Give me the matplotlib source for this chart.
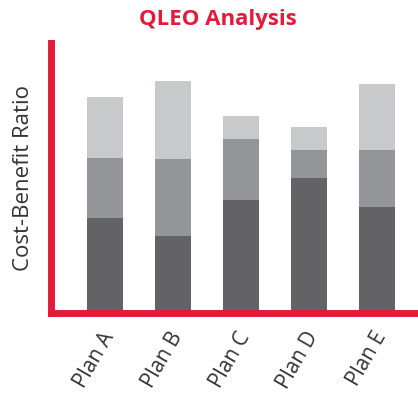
import matplotlib
matplotlib.use("Agg")
import matplotlib.pyplot as plt
import matplotlib.transforms as mtransforms
import numpy as np

categories = ["Plan A", "Plan B", "Plan C", "Plan D", "Plan E"]
# stacked segment values (bottom, middle, top)
seg_dark = [3.52, 2.85, 4.19, 5.0, 3.93]
seg_mid = [2.22, 2.85, 2.26, 1.04, 2.11]
seg_light = [2.26, 2.89, 0.85, 0.85, 2.44]

colors = ["#636365", "#939598", "#c8c9cb"]
red = "#e31b3b"

plt.rcParams['font.family'] = ['Open Sans', 'DejaVu Sans']

fig = plt.figure(figsize=(4.18, 3.95), dpi=100)
ax = fig.add_axes([51/418, 82/395, (430-51)/418, 270/395])

x = np.arange(len(categories))
w = 0.53
ax.bar(x, seg_dark, w, color=colors[0], zorder=1)
b2 = np.array(seg_dark)
ax.bar(x, seg_mid, w, bottom=b2, color=colors[1], zorder=1)
b3 = b2 + np.array(seg_mid)
ax.bar(x, seg_light, w, bottom=b3, color=colors[2], zorder=1)

ax.set_xlim(-0.79, -0.79 + 379/68)
ax.set_ylim(0, 10)
ax.set_xticks(x)
ax.set_xticklabels(categories, rotation=60, ha='right', rotation_mode='anchor',
                   fontsize=15, color='#333333')
ax.tick_params(axis='x', length=0, pad=11)
offset = mtransforms.ScaledTranslation(-4/100, 0, fig.dpi_scale_trans)
for lab in ax.get_xticklabels():
    lab.set_transform(lab.get_transform() + offset)
ax.set_yticks([])
for s in ['top', 'right']:
    ax.spines[s].set_visible(False)
for s in ['left', 'bottom']:
    ax.spines[s].set_color(red)
    ax.spines[s].set_linewidth(5)
    ax.spines[s].set_capstyle('projecting')
    ax.spines[s].set_zorder(3)

ax.set_ylabel("Cost-Benefit Ratio", fontsize=16, color='#333333', labelpad=12)
fig.text(218/418, 1 - 19/395, "QLEO Analysis", ha='center', va='center',
         fontsize=16, fontweight='bold', color=red)

fig.savefig("out.png", dpi=100)
